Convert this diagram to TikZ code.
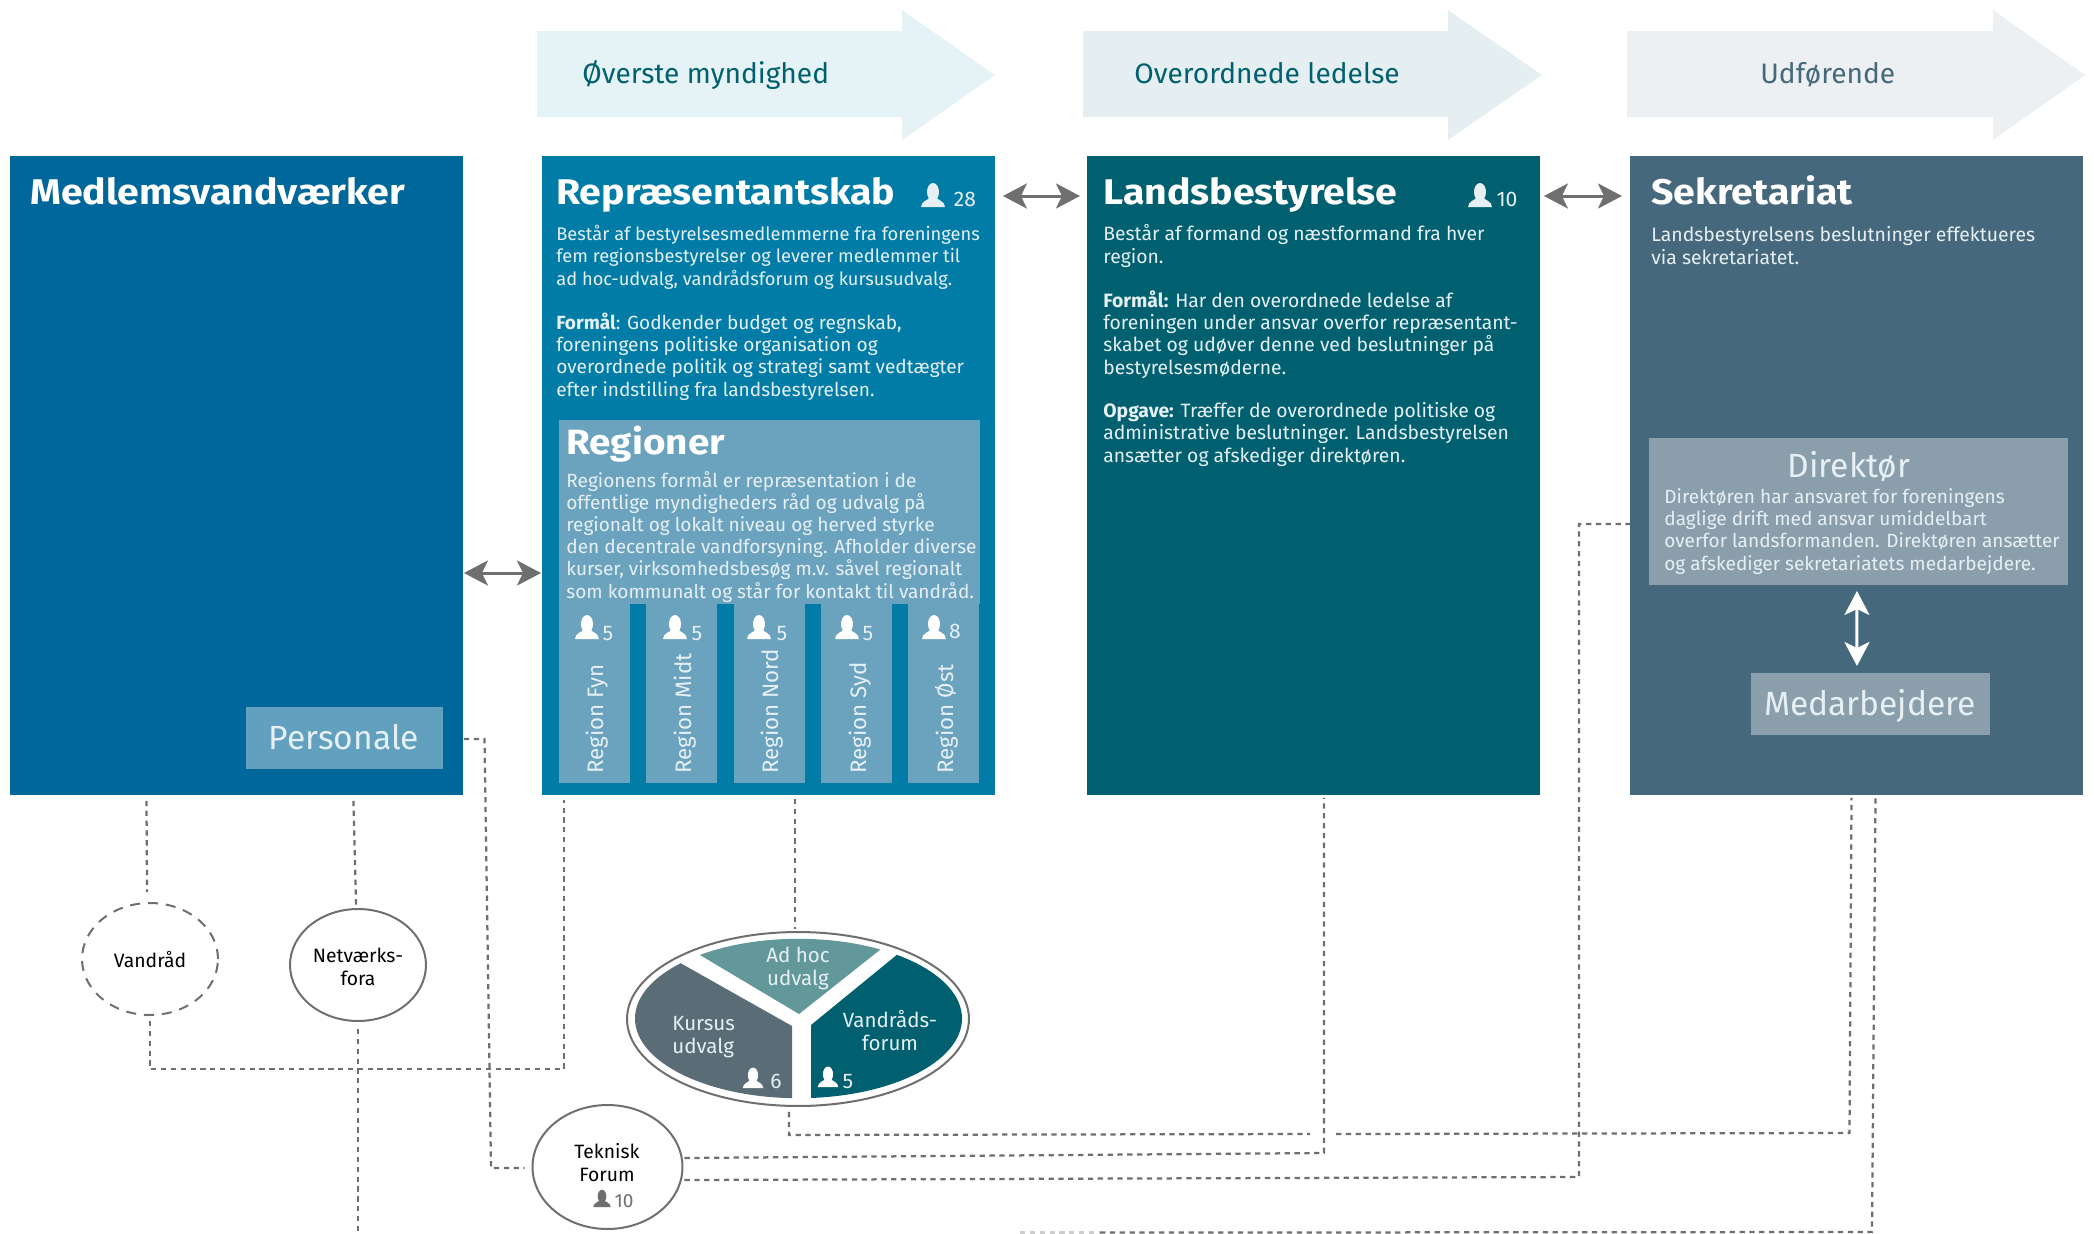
\documentclass[tikz,border=0pt]{standalone}
\usepackage{fontspec}
\setmainfont{Fira Sans}
\newfontfamily\titelfamilie[FakeStretch=1.1]{Fira Sans}
\usetikzlibrary{arrows.meta,shapes.geometric}
\definecolor{medblaa}{HTML}{00679B}
\definecolor{repblaa}{HTML}{007CA6}
\definecolor{landsgroen}{HTML}{006070}
\definecolor{sekgraa}{HTML}{46687C}
\definecolor{regblaa}{HTML}{6BA3BF}
\definecolor{persblaa}{HTML}{62A0C0}
\definecolor{dirgraa}{HTML}{8A9EAB}
\definecolor{lystekst}{HTML}{E6F0F4}
\definecolor{streg}{HTML}{6F6F6F}
\definecolor{adhocgroen}{HTML}{62989A}
\definecolor{kursusgraa}{HTML}{5A6C76}
\newcommand{\brodfont}{\fontsize{10.85}{12.6}\selectfont}
\newcommand{\storfont}{\fontsize{19.1}{22}\selectfont}
\tikzset{
  kasse/.style={anchor=north west, inner sep=0pt, outer sep=0pt},
  brod/.style={font=\brodfont, text=lystekst, align=left, anchor=base west, inner sep=0pt},
  titel/.style={font=\titelfamilie\fontsize{20.3}{24}\selectfont\bfseries, text=white, anchor=base west, inner sep=0pt},
  stor/.style={font=\storfont, text=lystekst, anchor=base, inner sep=0pt},
  banner/.style={font=\fontsize{16}{18}\selectfont, anchor=base west, inner sep=0pt},
  tal/.style={font=\fontsize{12}{14}\selectfont, text=lystekst, anchor=base, inner sep=0pt},
  regionnavn/.style={font=\fontsize{12.7}{14}\selectfont, text=lystekst, rotate=90, anchor=base west, inner sep=0pt},
  cirkel/.style={draw=streg, line width=.04cm, ellipse, fill=white, inner sep=0pt},
  etiket/.style={font=\fontsize{11}{12.6}\selectfont, align=center, anchor=base, inner sep=0pt},
  udvalgnavn/.style={font=\fontsize{11.7}{12.8}\selectfont, text=lystekst, align=center, anchor=base, inner sep=0pt},
  forbind/.style={draw=streg, line width=.045cm, dash pattern=on 3pt off 2.6pt},
  dobbelt/.style={draw=streg, line width=.06cm, arrows={Stealth[length=.48cm,width=.5cm,inset=.12cm]-Stealth[length=.48cm,width=.5cm,inset=.12cm]}},
  pics/person/.style={code={
    \fill[#1] (0,-15) ellipse (6 and 9);
    \fill[#1] (-12,0) -- (12,0) .. controls (12,-6) and (4,-7) .. (3,-10) -- (-3,-10) .. controls (-4,-7) and (-12,-6) .. (-12,0) -- cycle;
  }}
}
\begin{document}
\begin{tikzpicture}[x=.02cm, y=-.02cm]
  \useasboundingbox (0,0) rectangle (2094,1234);
  % pile foroven
  \fill[fill=repblaa!10] (537,31) -- (902,31) -- (902,10) -- (995,75) -- (902,140) -- (902,117) -- (537,117) -- cycle;
  \fill[fill=landsgroen!10] (1083,31) -- (1448,31) -- (1448,10) -- (1542,75) -- (1448,140) -- (1448,117) -- (1083,117) -- cycle;
  \fill[fill=sekgraa!10] (1627,31) -- (1993,31) -- (1993,10) -- (2085,75) -- (1993,140) -- (1993,117) -- (1627,117) -- cycle;
  \node[banner, text=landsgroen] (pilrep) at (582,83) {Øverste myndighed};
  \node[banner, text=landsgroen] (pillands) at (1134,83) {Overordnede ledelse};
  \node[banner, text=sekgraa] (pilsek) at (1760,83) {Udførende};
  % de fire kasser
  \node[kasse, fill=medblaa, minimum width=9.06cm, minimum height=12.78cm] (med) at (10,156) {};
  \node[kasse, fill=repblaa, minimum width=9.06cm, minimum height=12.78cm] (rep) at (542,156) {};
  \node[kasse, fill=landsgroen, minimum width=9.06cm, minimum height=12.78cm] (lands) at (1087,156) {};
  \node[kasse, fill=sekgraa, minimum width=9.06cm, minimum height=12.78cm] (sek) at (1630,156) {};
  \node[titel] (medtitel) at (30,204) {Medlemsvandværker};
  \node[titel] (reptitel) at (556,204) {Repræsentantskab};
  \node[titel] (landstitel) at (1103,204) {Landsbestyrelse};
  \node[titel] (sektitel) at (1651,204) {Sekretariat};
  \pic at (933,207) {person=lystekst};
  \node[tal] (reptal) at (965,206) {28};
  \pic at (1480,207) {person=lystekst};
  \node[tal] (landstal) at (1507,206) {10};
  % tekst i repraesentantskab
  \node[brod, font=\fontsize{10.4}{12.6}\selectfont] (rep1) at (556,285) {Består af bestyrelsesmedlemmerne fra foreningens\\fem regionsbestyrelser og leverer medlemmer til\\ad hoc-udvalg, vandrådsforum og kursusudvalg.};
  \node[brod] (rep2) at (556,396) {\textbf{Formål}: Godkender budget og regnskab,\\foreningens politiske organisation og\\overordnede politik og strategi samt vedtægter\\efter indstilling fra landsbestyrelsen.};
  % regioner
  \node[kasse, fill=regblaa, minimum width=8.42cm, minimum height=3.68cm] (reg) at (559,420) {};
  \node[titel, font=\titelfamilie\fontsize{20}{24}\selectfont\bfseries] (regtitel) at (566,454) {Regioner};
  \node[brod] (regtekst) at (566,598) {Regionens formål er repræsentation i de\\offentlige myndigheders råd og udvalg på\\regionalt og lokalt niveau og herved styrke\\den decentrale vandforsyning. Afholder diverse\\kurser, virksomhedsbesøg m.v. såvel regionalt\\som kommunalt og står for kontakt til vandråd.};
  \node[kasse, fill=regblaa, minimum width=1.42cm, minimum height=3.58cm] (fyn) at (559,604) {};
  \node[kasse, fill=regblaa, minimum width=1.42cm, minimum height=3.58cm] (midt) at (646,604) {};
  \node[kasse, fill=regblaa, minimum width=1.42cm, minimum height=3.58cm] (nord) at (734,604) {};
  \node[kasse, fill=regblaa, minimum width=1.42cm, minimum height=3.58cm] (syd) at (821,604) {};
  \node[kasse, fill=regblaa, minimum width=1.42cm, minimum height=3.58cm] (oest) at (908,604) {};
  \node[regionnavn] (fynnavn) at (603,774) {Region Fyn};
  \node[regionnavn] (midtnavn) at (691,774) {Region Midt};
  \node[regionnavn] (nordnavn) at (778,774) {Region Nord};
  \node[regionnavn] (sydnavn) at (866,774) {Region Syd};
  \node[regionnavn] (oestnavn) at (953,774) {Region Øst};
  \pic at (587,639) {person=white};
  \pic at (675,639) {person=white};
  \pic at (759,639) {person=white};
  \pic at (847,639) {person=white};
  \pic at (934,639) {person=white};
  \node[tal] (fyntal) at (608,640) {5};
  \node[tal] (midttal) at (697,640) {5};
  \node[tal] (nordtal) at (782,640) {5};
  \node[tal] (sydtal) at (868,640) {5};
  \node[tal] (oesttal) at (955,638) {8};
  % personale
  \node[kasse, fill=persblaa, minimum width=3.94cm, minimum height=1.24cm] (pers) at (246,707) {};
  \node[stor] (persnavn) at (344,749) {Personale};
  % tekst i landsbestyrelse
  \node[brod, font=\fontsize{11}{12.6}\selectfont] (lands1) at (1103,263) {Består af formand og næstformand fra hver\\region.};
  \node[brod, font=\fontsize{11}{12.6}\selectfont] (lands2) at (1103,374) {\textbf{Formål:} Har den overordnede ledelse af\\foreningen under ansvar overfor repræsentant-\\skabet og udøver denne ved beslutninger på\\bestyrelsesmøderne.};
  \node[brod, font=\fontsize{11}{12.6}\selectfont] (lands3) at (1103,462) {\textbf{Opgave:} Træffer de overordnede politiske og\\administrative beslutninger. Landsbestyrelsen\\ansætter og afskediger direktøren.};
  % sekretariat
  \node[brod, font=\fontsize{11.05}{12.6}\selectfont] (sek1) at (1651,264) {Landsbestyrelsens beslutninger effektueres\\via sekretariatet.};
  \node[kasse, fill=dirgraa, minimum width=8.38cm, minimum height=2.94cm] (dir) at (1649,438) {};
  \node[stor] (dirnavn) at (1849,477) {Direktør};
  \node[brod] (dirtekst) at (1664,570) {Direktøren har ansvaret for foreningens\\daglige drift med ansvar umiddelbart\\overfor landsformanden. Direktøren ansætter\\og afskediger sekretariatets medarbejdere.};
  \node[kasse, fill=dirgraa, minimum width=4.78cm, minimum height=1.25cm] (medarb) at (1751,672.5) {};
  \node[stor] (medarbnavn) at (1870,715) {Medarbejdere};
  % dobbeltpile
  \draw[dobbelt] ([shift={(8,40)}]rep.north east) -- ([shift={(-7,40)}]lands.north west);
  \draw[dobbelt] ([shift={(4,40)}]lands.north east) -- ([shift={(-8,40)}]sek.north west);
  \draw[dobbelt] ([shift={(1,417)}]med.north east) -- ([shift={(-1,417)}]rep.north west);
  \draw[dobbelt, draw=white] ([shift={(-1.5,6)}]dir.south) -- ([shift={(-13.5,-6.5)}]medarb.north);
  % cirkler
  \node[cirkel, dash pattern=on 5.7pt off 4.5pt, minimum width=2.72cm, minimum height=2.24cm] (vand) at (150,959) {};
  \node[cirkel, minimum width=2.72cm, minimum height=2.24cm] (netv) at (358,965) {};
  \node[cirkel, minimum width=3cm, minimum height=2.48cm] (tekn) at (607.5,1167) {};
  \node[etiket] (vandnavn) at (150,967) {Vandråd};
  \node[etiket] (netvnavn) at (358,985) {Netværks-\\fora};
  \node[etiket] (teknnavn) at (607,1181) {Teknisk\\Forum};
  \pic[scale=.72] at (602,1207) {person=streg};
  \node[tal, font=\brodfont, text=streg] (tekntal) at (624,1207) {10};
  % udvalg
  \node[cirkel, minimum width=6.84cm, minimum height=3.48cm] (udv) at (798,1019) {};
  \begin{scope}
    \clip (798.5,1018.5) ellipse (163.5 and 79.7);
    \fill[adhocgroen] (799,1014) -- (658,930) -- (905,930) -- cycle;
    \fill[kursusgraa] (620,929) -- (792,1026) -- (792,1110) -- (620,1110) -- cycle;
    \fill[landsgroen] (811,1025) -- (980,887) -- (980,1110) -- (811,1110) -- cycle;
  \end{scope}
  \node[udvalgnavn] (adhoc) at (798,985) {Ad hoc\\udvalg};
  \node[udvalgnavn, align=left, anchor=base west] (kursus) at (672,1053) {Kursus\\udvalg};
  \node[udvalgnavn] (vandforum) at (890,1050) {Vandråds-\\forum};
  \pic[scale=.85] at (753,1088) {person=white};
  \node[tal] (kursustal) at (776,1088) {6};
  \pic[scale=.85] at (828,1087) {person=white};
  \node[tal] (forumtal) at (848,1088) {5};
  % stiplede forbindelser
  \draw[forbind] ([shift={(136.5,6)}]med.south west) -- ([shift={(-3,-10)}]vand.north);
  \draw[forbind] ([shift={(343.5,6)}]med.south west) -- ([shift={(-2,-2)}]netv.north);
  \coordinate (hj1) at (150,1069);
  \coordinate (hj2) at (564,1069);
  \draw[forbind] ([shift={(0,5)}]vand.south) -- (hj1) -- (hj2) -- ([shift={(22,5)}]rep.south west);
  \draw[forbind] ([shift={(0,7)}]netv.south) -- (358,1240);
  \coordinate (hj3) at (484.5,739);
  \coordinate (hj4) at (491,1168);
  \draw[forbind] ([shift={(1,-56)}]med.south east) -- (hj3) -- (hj4) -- ([shift={(-7,1)}]tekn.west);
  \draw[forbind] ([shift={(253,4)}]rep.south west) -- ([shift={(-3,-2)}]udv.north);
  \coordinate (hj5) at (789,1135);
  \coordinate (hj6) at (1310,1134);
  \coordinate (hj7) at (1336,1134);
  \coordinate (hj8) at (1849.5,1133);
  \draw[forbind] ([shift={(-9,5)}]udv.south) -- (hj5) -- (hj6);
  \draw[forbind] (hj7) -- (hj8) -- ([shift={(221.5,3)}]sek.south west);
  \coordinate (hj9) at (1324,1153);
  \draw[forbind] ([shift={(1,-9)}]tekn.east) -- (hj9) -- ([shift={(237,3)}]lands.south west);
  \coordinate (hj10) at (1579,1177);
  \coordinate (hj11) at (1579,524);
  \draw[forbind] ([shift={(1,13)}]tekn.east) -- (hj10) -- (hj11) -- ([shift={(0,368)}]sek.north west);
  \coordinate (hj12) at (1100,1232.6);
  \coordinate (hj13) at (1020,1232.6);
  \coordinate (hj14) at (1872,1232);
  \draw[forbind] (hj12) -- (hj14) -- ([shift={(245.5,3)}]sek.south west);
  \draw[forbind, draw=streg!35] (hj13) -- (hj12);
\end{tikzpicture}
\end{document}
